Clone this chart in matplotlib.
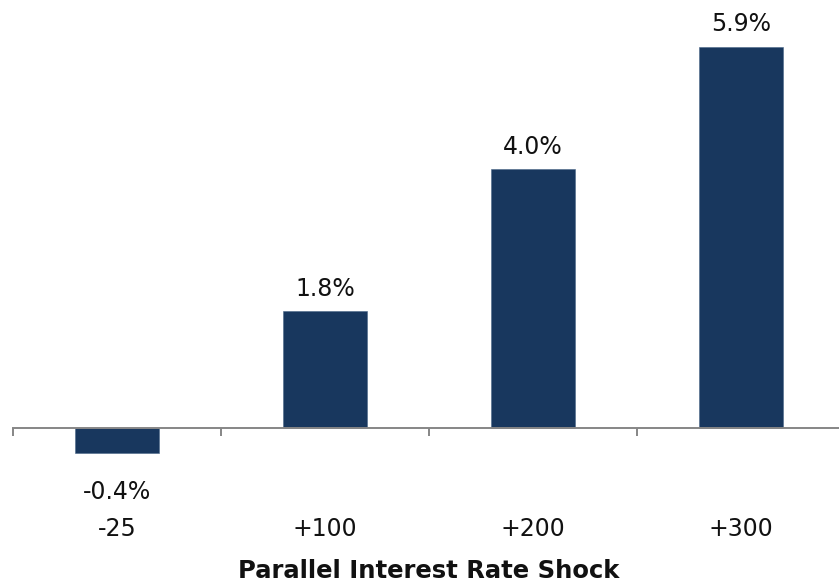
import matplotlib
matplotlib.use("Agg")
import matplotlib.pyplot as plt
from matplotlib.transforms import blended_transform_factory

# Change in net interest income under parallel rate shocks
shocks = ["-25", "+100", "+200", "+300"]
impact_pct = [-0.4, 1.8, 4.0, 5.9]
value_labels = ["-0.4%", "1.8%", "4.0%", "5.9%"]
axis_title = "Parallel Interest Rate Shock"

bar_color = "#18375E"
axis_color = "#868686"
font = "DejaVu Sans"

W, H = 839, 587
fig = plt.figure(figsize=(W / 100, H / 100), dpi=100)

# Axes: categories 208 px wide starting at x=13; zero line at y=427.5
cat_w = 208
left_px = 13
px_per_unit = 64.55
zero_px = 427.5
ax = fig.add_axes([left_px / W, 0.0, 4 * cat_w / W, 1.0])
ax.set_xlim(-0.5, 3.5)
ax.set_ylim(-(H - zero_px) / px_per_unit, zero_px / px_per_unit)

x = list(range(len(shocks)))
ax.bar(x, impact_pct, width=0.40, color=bar_color, edgecolor="#4a6688",
       linewidth=0.4, zorder=2)

# Spine through zero with ticks at category boundaries
for s in ["left", "right", "top"]:
    ax.spines[s].set_visible(False)
ax.spines["bottom"].set_position(("data", 0))
ax.spines["bottom"].set_color(axis_color)
ax.spines["bottom"].set_linewidth(1.4)
ax.spines["bottom"].set_zorder(3)
ax.set_xticks([i - 0.5 for i in range(len(shocks) + 1)])
ax.set_xticklabels([])
ax.tick_params(axis="x", direction="out", length=5.5, width=1.4,
               color=axis_color)
ax.set_yticks([])

# Value labels above/below the bars
for xi, v, lab in zip(x, impact_pct, value_labels):
    if v >= 0:
        ax.annotate(lab, (xi, v), xytext=(0, 11), textcoords="offset points",
                    ha="center", va="baseline", fontsize=17, family=font,
                    color="#111111")
    else:
        ax.annotate(lab, (xi, v), xytext=(0, -19), textcoords="offset points",
                    ha="center", va="top", fontsize=17, family=font,
                    color="#111111")

# Category labels
trans = blended_transform_factory(ax.transData, fig.transFigure)
for xi, name in zip(x, shocks):
    ax.text(xi, 1 - 529 / H, name, transform=trans, ha="center", va="center",
            fontsize=17, family=font, color="#111111")

fig.text(429 / W, 1 - 571 / H, axis_title,
         ha="center", va="center", fontsize=17.5, fontweight="bold",
         family=font, color="#111111")

fig.savefig("out.png", dpi=100)
